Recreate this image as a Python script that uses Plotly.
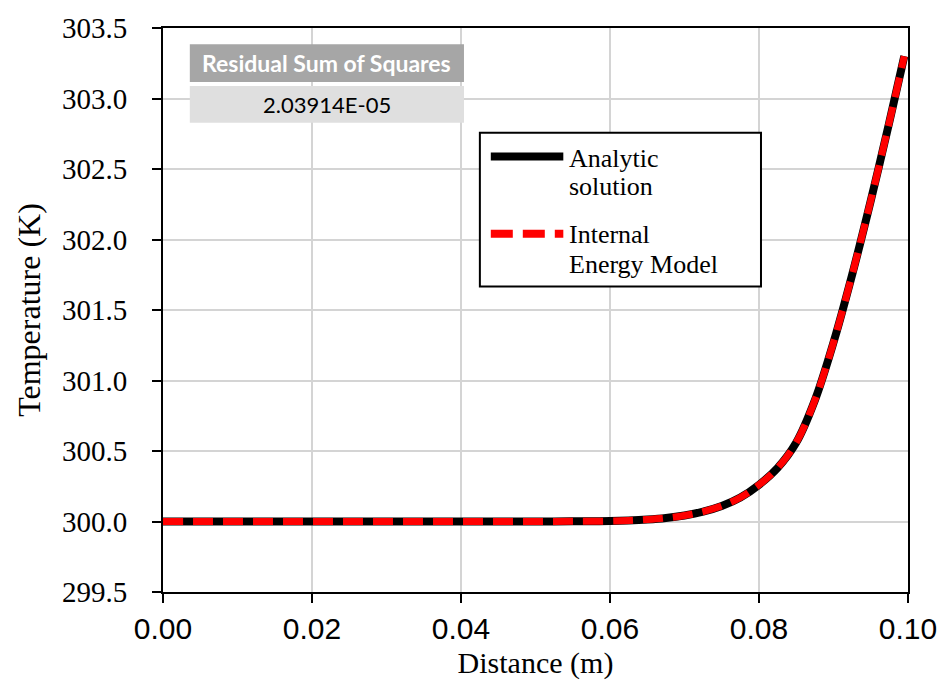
import plotly.graph_objects as go

# Distance along the domain (m)
distance = [0.0, 0.005, 0.01, 0.015, 0.02, 0.025, 0.03, 0.035, 0.04, 0.045, 0.05, 0.055,
            0.06, 0.0625, 0.065, 0.0675, 0.07, 0.0725, 0.075, 0.0775, 0.08, 0.0825,
            0.085, 0.0875, 0.09, 0.0925, 0.095, 0.0975, 0.0995]

# Temperature profiles (K)
analytic_T = [300.0, 300.0, 300.0, 300.0, 300.0, 300.0, 300.0, 300.0, 300.0, 300.0, 300.0, 300.001,
              300.003, 300.007, 300.014, 300.025, 300.043, 300.07, 300.11, 300.17, 300.26, 300.38,
              300.56, 300.86, 301.27, 301.75, 302.275, 302.834, 303.30]
model_T = [300.0, 300.0, 300.0, 300.0, 300.0, 300.0, 300.0, 300.0, 300.0, 300.0, 300.0, 300.001,
           300.003, 300.007, 300.014, 300.025, 300.043, 300.07, 300.11, 300.17, 300.26, 300.38,
           300.56, 300.86, 301.27, 301.75, 302.275, 302.834, 303.30]

series_names = ["Analytic solution", "Internal Energy Model"]
legend_lines = [["Analytic", "solution"], ["Internal", "Energy Model"]]
rss_label = "Residual Sum of Squares"
rss_value = "2.03914E-05"

x_ticks = [0.0, 0.02, 0.04, 0.06, 0.08, 0.10]
y_ticks = [299.5, 300.0, 300.5, 301.0, 301.5, 302.0, 302.5, 303.0, 303.5]

SERIF = "Liberation Serif"
SANS = "Liberation Sans"
TABLE_FONT = "Lato"

fig = go.Figure()
fig.add_trace(go.Scatter(
    x=distance, y=analytic_T, mode="lines", name=series_names[0],
    line=dict(color="black", width=8, shape="spline", smoothing=1),
    showlegend=False,
))
fig.add_trace(go.Scatter(
    x=distance, y=model_T, mode="lines", name=series_names[1],
    line=dict(color="#FF0000", width=7, dash="20px,10px", shape="spline", smoothing=1),
    showlegend=False,
))

# Plot area in pixels: left 163, right 913, top 23.5, bottom 592
L, R, T, B = 163, 913, 23.5, 592
W, H = R - L, B - T


def px(xp):
    return (xp - L) / W


def py(yp):
    return (B - yp) / H


shapes = []
annotations = []

# Residual table
shapes.append(dict(type="rect", xref="paper", yref="paper", layer="above",
                   x0=px(190), x1=px(466), y0=py(78), y1=py(40),
                   fillcolor="#A6A6A6", line=dict(width=0)))
shapes.append(dict(type="rect", xref="paper", yref="paper", layer="above",
                   x0=px(190), x1=px(466), y0=py(119), y1=py(82),
                   fillcolor="#DFDFDF", line=dict(width=0)))
annotations.append(dict(xref="paper", yref="paper", x=px(328), y=py(59), text="<b>" + rss_label + "</b>",
                        showarrow=False, xanchor="center", yanchor="middle",
                        font=dict(family=TABLE_FONT, size=23, color="white")))
annotations.append(dict(xref="paper", yref="paper", x=px(328), y=py(100.5), text=rss_value,
                        showarrow=False, xanchor="center", yanchor="middle",
                        font=dict(family=TABLE_FONT, size=22, color="black")))

# Legend box
shapes.append(dict(type="rect", xref="paper", yref="paper", layer="above",
                   x0=px(482), x1=px(765), y0=py(284), y1=py(129),
                   fillcolor="white", line=dict(color="black", width=2)))
shapes.append(dict(type="line", xref="paper", yref="paper", layer="above",
                   x0=px(493), x1=px(566), y0=py(153), y1=py(153),
                   line=dict(color="black", width=8)))
shapes.append(dict(type="line", xref="paper", yref="paper", layer="above",
                   x0=px(493), x1=px(566), y0=py(231), y1=py(231),
                   line=dict(color="#FF0000", width=8, dash="22px,10px")))
for (first, second), yc in zip(legend_lines, [(155, 183), (232, 262)]):
    for txt, yy in zip((first, second), yc):
        annotations.append(dict(xref="paper", yref="paper", x=px(570), y=py(yy), text=txt,
                                showarrow=False, xanchor="left", yanchor="middle",
                                font=dict(family=SERIF, size=26, color="black")))

fig.update_layout(
    width=949, height=688,
    margin=dict(l=L, r=949 - R, t=T, b=688 - B),
    paper_bgcolor="white", plot_bgcolor="white",
    shapes=shapes, annotations=annotations,
    showlegend=False,
)
fig.update_xaxes(
    range=[0, 0.10], tickvals=x_ticks, tickformat=".2f",
    showline=True, linecolor="black", linewidth=2, mirror=True,
    ticks="outside", ticklen=9, tickwidth=1.5, tickcolor="black",
    showgrid=True, gridcolor="#D4D4D4", gridwidth=1.5, zeroline=False,
    tickfont=dict(family=SANS, size=30, color="black"),
    title=dict(text="Distance (m)", font=dict(family=SERIF, size=30, color="black"), standoff=8),
)
fig.update_yaxes(
    range=[299.5, 303.5], tickvals=y_ticks, tickformat=".1f",
    showline=True, linecolor="black", linewidth=2, mirror=True,
    ticks="outside", ticklen=9, tickwidth=1.5, tickcolor="black",
    showgrid=True, gridcolor="#D4D4D4", gridwidth=1.5, zeroline=False,
    tickfont=dict(family=SERIF, size=29, color="black"),
    ticklabelstandoff=19,
    title=dict(text="Temperature (K)", font=dict(family=SERIF, size=32, color="black"), standoff=12),
)

fig.write_html("out.html")
